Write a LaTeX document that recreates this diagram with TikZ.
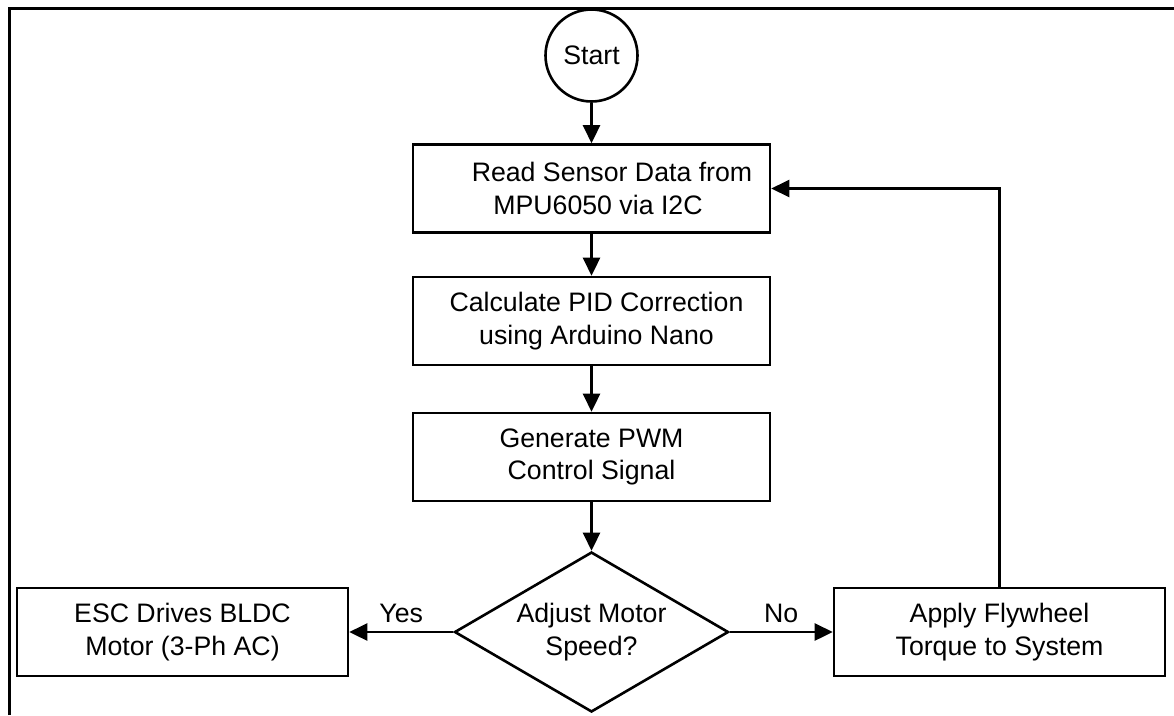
\documentclass[tikz,border=0pt]{standalone}
\usepackage{fontspec}
\setmainfont{Liberation Sans}
\usetikzlibrary{shapes.geometric,arrows.meta}
\begin{document}
\begin{tikzpicture}[x=1pt,y=-1pt,
  every node/.style={font=\fontsize{26.7}{32.5}\selectfont, align=center},
  procbox/.style={draw, line width=2.6pt, rectangle, minimum width=357pt, minimum height=88pt, inner sep=0pt},
  sidebox/.style={draw, line width=2.6pt, rectangle, minimum width=331pt, minimum height=88pt, inner sep=0pt},
  decision/.style={draw, line width=2.6pt, diamond, aspect=1.7125, minimum width=274pt, minimum height=160pt, inner sep=0pt},
  terminal/.style={draw, line width=2.6pt, circle, minimum size=92pt, inner sep=0pt},
  flow/.style={line width=2.6pt, -{Triangle[length=18pt,width=17pt]}},
  edgelabel/.style={inner sep=0pt}
]
\useasboundingbox (0,0) rectangle (1174,715);
% outer frame (top and left edges)
\draw[line width=3pt] (9,715) -- (9,8) -- (1174,8);

\node[terminal] (start) at (591.5,55.5) {Start};
\node[procbox] (read) at (591.5,188.5) {\hspace*{41pt}Read Sensor Data from\\\hspace*{13pt}MPU6050 via I2C};
\node[procbox] (pid) at (591.5,321) {\hspace*{10pt}Calculate PID Correction\\\hspace*{10pt}using Arduino Nano};
\node[procbox] (pwm) at (591.5,457) {Generate PWM\\Control Signal};
\node[decision] (dec) at (591.5,632) {Adjust Motor\\Speed?};
\node[sidebox] (esc) at (182.5,632) {ESC Drives BLDC\\Motor (3-Ph AC)};
\node[sidebox] (apply) at (999.5,632) {Apply Flywheel\\Torque to System};

\draw[flow] (start) -- (read);
\draw[flow] (read) -- (pid);
\draw[flow] (pid) -- (pwm);
\draw[flow] (pwm) -- (dec);
\draw[flow] (dec.west) -- node[edgelabel, above=8pt] {Yes} (esc.east);
\draw[flow] (dec.east) -- node[edgelabel, above=8pt] {No} (apply.west);
\draw[flow] (apply.north) |- (read.east);
\end{tikzpicture}
\end{document}
